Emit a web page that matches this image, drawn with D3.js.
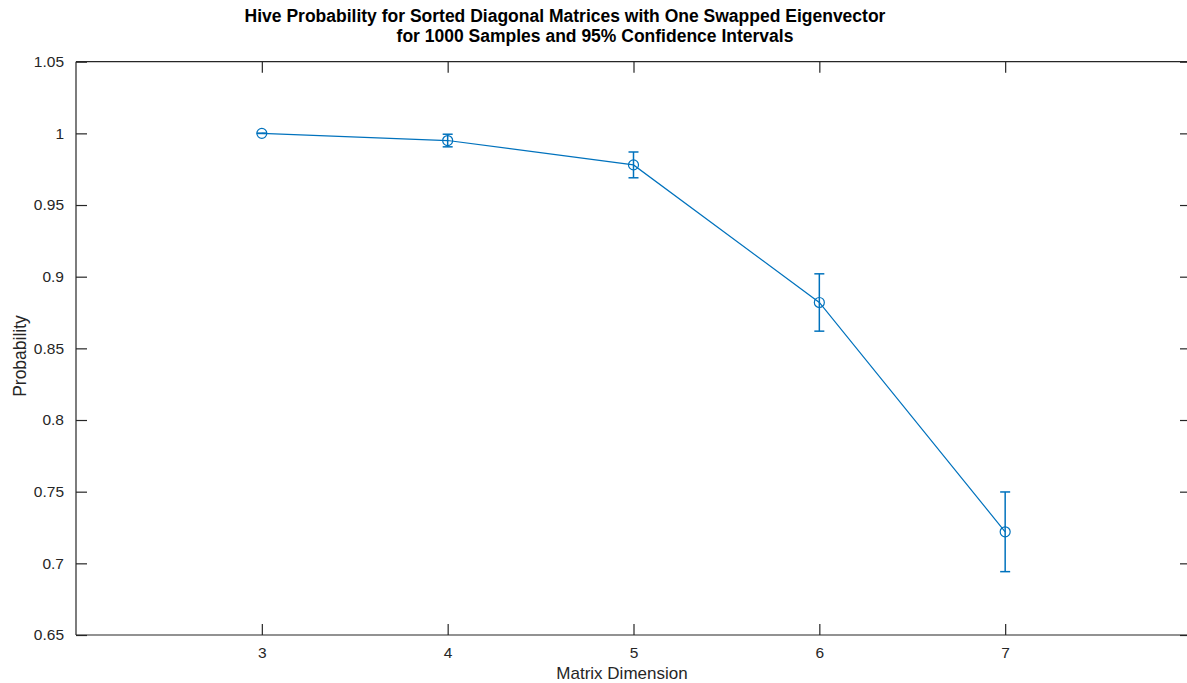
<!DOCTYPE html>
<html>
<head>
<meta charset="utf-8">
<script src="https://cdn.jsdelivr.net/npm/d3@7"></script>
<style>
  html, body { margin: 0; padding: 0; background: #fff; }
  svg { display: block; font-family: "Liberation Sans", Arial, Helvetica, sans-serif; }
</style>
</head>
<body>
<svg id="chart" width="1187" height="683"></svg>
<script>
// ---- data ----
const dims = [3, 4, 5, 6, 7];
const probability = [1.0, 0.995, 0.978, 0.882, 0.722];
const ciLower = [1.0, 0.9906, 0.9690, 0.8620, 0.6942];
const ciUpper = [1.0, 0.9994, 0.9870, 0.9020, 0.7498];
const xTicks = [3, 4, 5, 6, 7];
const yTicks = [0.65, 0.7, 0.75, 0.8, 0.85, 0.9, 0.95, 1, 1.05];
const titleLines = [
  "Hive Probability for Sorted Diagonal Matrices with One Swapped Eigenvector",
  "for 1000 Samples and 95% Confidence Intervals"
];
const xLabel = "Matrix Dimension";
const yLabel = "Probability";

// ---- layout ----
const plotL = 76, plotR = 1191, plotT = 61.7, plotB = 635;
const axisColor = "#262626";
const lineColor = "#0072BD";

const svg = d3.select("#chart");
const x = d3.scaleLinear().domain([2, 8]).range([plotL, plotR]);
const y = d3.scaleLinear().domain([0.65, 1.05]).range([plotB, plotT]);

const fmt = d => String(+d.toFixed(2));

// axes
const axL = svg.append("g").attr("transform", `translate(${plotL},0)`)
  .call(d3.axisLeft(y).tickValues(yTicks).tickSize(-11).tickPadding(12).tickFormat(fmt));
const axR = svg.append("g").attr("transform", `translate(${plotR},0)`)
  .call(d3.axisRight(y).tickValues(yTicks).tickSize(-11).tickFormat(""));
const axB = svg.append("g").attr("transform", `translate(0,${plotB})`)
  .call(d3.axisBottom(x).tickValues(xTicks).tickSize(-11).tickPadding(12).tickFormat(d3.format("d")));
const axT = svg.append("g").attr("transform", `translate(0,${plotT})`)
  .call(d3.axisTop(x).tickValues(xTicks).tickSize(-11).tickFormat(""));

[axL, axR, axB, axT].forEach(g => {
  g.select(".domain").attr("stroke", axisColor).attr("stroke-width", 1.2);
  g.selectAll(".tick line").attr("stroke", axisColor).attr("stroke-width", 1.2);
  g.selectAll(".tick text").attr("fill", axisColor).style("font-size", "15.5px");
});
axL.select(".domain").attr("d", `M0,${plotB}V${plotT}`);
axR.select(".domain").attr("d", `M0,${plotB}V${plotT}`);
axB.select(".domain").attr("d", `M${plotL},0H${plotR}`);
axT.select(".domain").attr("d", `M${plotL},0H${plotR}`);

// data line
const pts = dims.map((d, i) => ({ x: d, p: probability[i], lo: ciLower[i], hi: ciUpper[i] }));
svg.append("path")
  .datum(pts)
  .attr("fill", "none")
  .attr("stroke", lineColor)
  .attr("stroke-width", 1.2)
  .attr("d", d3.line().x(d => x(d.x)).y(d => y(d.p)));

// error bars
const eb = svg.append("g").attr("stroke", lineColor).attr("stroke-width", 1.5).attr("fill", "none");
const capHalf = 5;
pts.forEach(d => {
  const cx = x(d.x);
  eb.append("line").attr("x1", cx).attr("x2", cx).attr("y1", y(d.lo)).attr("y2", y(d.hi));
  eb.append("line").attr("x1", cx - capHalf).attr("x2", cx + capHalf).attr("y1", y(d.lo)).attr("y2", y(d.lo));
  eb.append("line").attr("x1", cx - capHalf).attr("x2", cx + capHalf).attr("y1", y(d.hi)).attr("y2", y(d.hi));
});

// markers
svg.append("g").selectAll("circle").data(pts).join("circle")
  .attr("cx", d => x(d.x)).attr("cy", d => y(d.p)).attr("r", 5)
  .attr("fill", "none").attr("stroke", lineColor).attr("stroke-width", 1.2);

// title
const titleX = [565, 595];
svg.append("g").selectAll("text").data(titleLines).join("text")
  .attr("x", (d, i) => titleX[i]).attr("y", (d, i) => 22 + i * 20)
  .attr("text-anchor", "middle")
  .style("font-size", "17.5px").style("font-weight", "bold").attr("fill", "#000")
  .text(d => d);

// axis labels
svg.append("text").attr("x", 622).attr("y", 679).attr("text-anchor", "middle")
  .style("font-size", "17px").attr("fill", axisColor).text(xLabel);
svg.append("text").attr("transform", `translate(26,356) rotate(-90)`)
  .attr("text-anchor", "middle")
  .style("font-size", "17.5px").attr("fill", axisColor).text(yLabel);
</script>
</body>
</html>
